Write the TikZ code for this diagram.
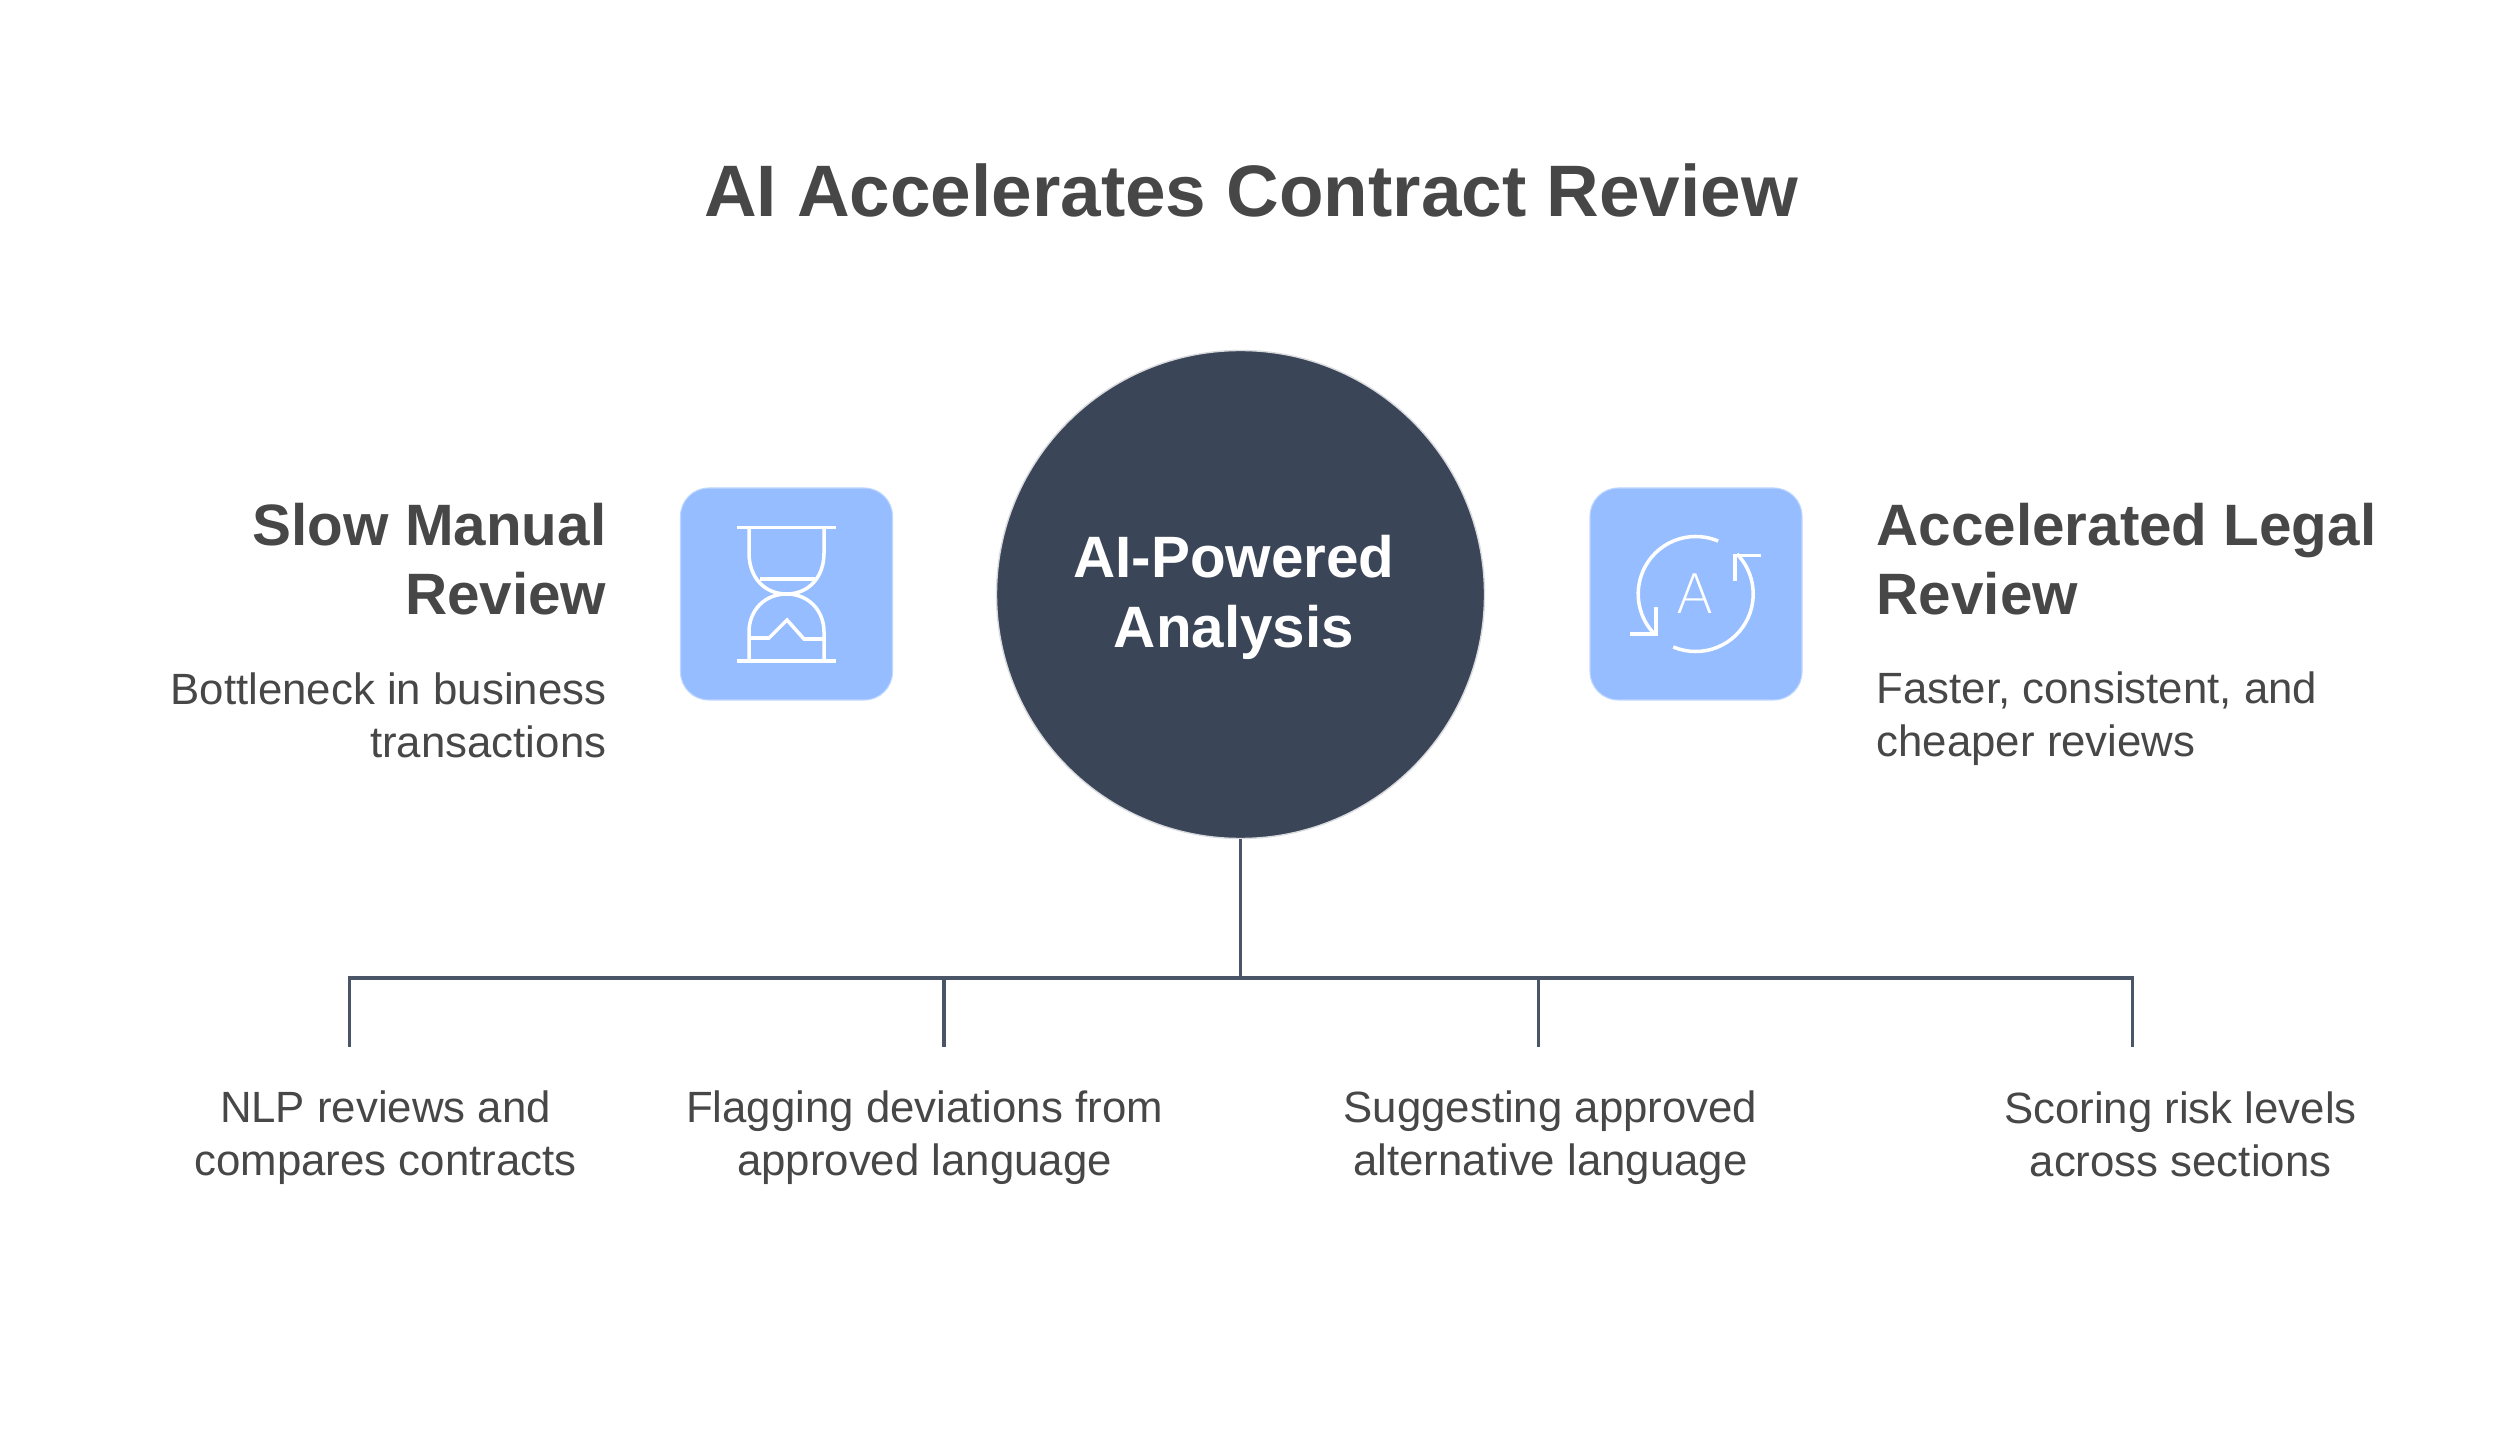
\documentclass[tikz,border=0pt]{standalone}
\usepackage{fontspec}
\setmainfont{Liberation Sans}
\newfontfamily\iconfont{DejaVu Sans ExtraLight}
\definecolor{inkgray}{HTML}{474747}
\definecolor{coreblue}{HTML}{3B4558}
\definecolor{iconblue}{HTML}{96BDFF}
\definecolor{linkgray}{HTML}{4A5568}
\tikzset{
	headtext/.style={text=inkgray, font=\fontsize{16.6}{19.8}\selectfont\bfseries, inner sep=0pt},
	bodytext/.style={text=inkgray, font=\fontsize{12.45}{15}\selectfont, inner sep=0pt},
	iconbox/.style={fill=iconblue, draw=iconblue!60!white, line width=0.3pt, rounded corners=8pt, minimum size=212*0.01cm, inner sep=0pt},
	iconline/.style={draw=white, line width=1pt},
	linkline/.style={draw=linkgray, line width=0.95pt}
}
\begin{document}
\begin{tikzpicture}[x=0.01cm,y=-0.01cm]
	\useasboundingbox (0,0) rectangle (2500,1434);
	\node[text=inkgray, font=\fontsize{20.73}{25}\selectfont\bfseries, inner sep=0pt] (title) at (1251,190.5) {AI Accelerates Contract Review};

	\node[circle, fill=coreblue, draw=coreblue!20!white, line width=0.4pt, minimum size=488*0.01cm, inner sep=0pt] (core) at (1240.5,594.5) {};
	\node[text=white, font=\fontsize{16.6}{19.8}\selectfont\bfseries, align=center, inner sep=0pt] (corelabel) at (1234,597.5) {AI-Powered\\Analysis};

	\node[iconbox] (slowbox) at (786.5,594) {};
	\node[iconbox] (fastbox) at (1696,594) {};

	% hourglass
	\draw[iconline] (737,527.5) -- (836,527.5);
	\draw[iconline] (737,661) -- (836,661);
	\draw[iconline] (749,527.5) -- (749,553) .. controls (749,578) and (765,594) .. (786.5,594) .. controls (808,594) and (824,578) .. (824,553) -- (824,527.5);
	\draw[iconline] (749,661) -- (749,632) .. controls (749,610) and (765,594) .. (786.5,594) .. controls (808,594) and (824,610) .. (824,632) -- (824,661);
	\draw[iconline] (760,579) -- (815,579);
	\draw[iconline] (749,638) -- (769,638) -- (787,620) -- (804,639) -- (824,639);

	% circular arrows
	\draw[iconline] (1695.7,594) ++(-67:57.5) arc (-67:-225:57.5);
	\draw[iconline] (1695.7,594) ++(-247:57.5) arc (-247:-404:57.5);
	\draw[iconline] (1656,607.5) -- (1656,634) -- (1630,634);
	\draw[iconline] (1735,581) -- (1735,555.5) -- (1761,555.5);
	\node[text=white, font=\iconfont\fontsize{15.5}{18}\selectfont, inner sep=0pt] (iconletter) at (1695.5,594) {A};

	\node[headtext, anchor=east, align=right] (slowhead) at (607,559) {Slow Manual\\Review};
	\node[bodytext, anchor=east, align=right] (slowbody) at (607,715) {Bottleneck in business\\transactions};
	\node[headtext, anchor=west, align=left] (fasthead) at (1876,559) {Accelerated Legal\\Review};
	\node[bodytext, anchor=west, align=left] (fastbody) at (1876,718.5) {Faster, consistent, and\\cheaper reviews};

	\coordinate (hub) at (1240.5,978);
	\coordinate (leafa) at (349.5,1047);
	\coordinate (leafb) at (944,1047);
	\coordinate (leafc) at (1538.5,1047);
	\coordinate (leafd) at (2132.5,1047);
	\draw[linkline] (core) -- (hub);
	\draw[linkline] (leafa) |- (hub);
	\draw[linkline] (leafb) |- (hub);
	\draw[linkline] (leafc) |- (hub);
	\draw[linkline] (leafd) |- (hub);

	\node[bodytext, align=center] (taska) at (385.5,1137.5) {NLP reviews and\\compares contracts};
	\node[bodytext, align=center] (taskb) at (924.5,1137.5) {Flagging deviations from\\approved language};
	\node[bodytext, align=center] (taskc) at (1550.5,1137.5) {Suggesting approved\\alternative language};
	\node[bodytext, align=center] (taskd) at (2180.5,1134) {Scoring risk levels\\across sections};
\end{tikzpicture}
\end{document}
